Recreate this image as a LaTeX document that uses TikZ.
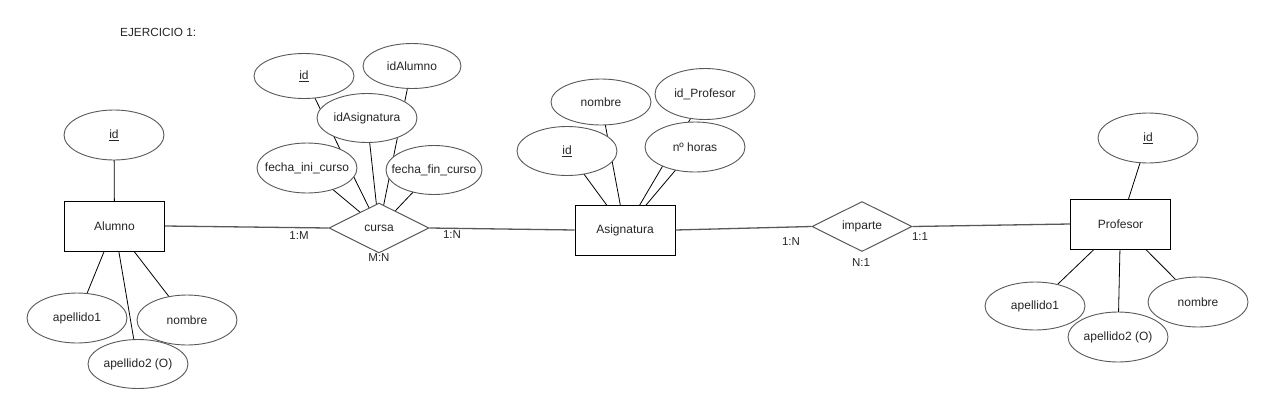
\documentclass[tikz,border=0pt]{standalone}
\usepackage{fontspec}
\setmainfont{Liberation Sans}
\usetikzlibrary{shapes.geometric,backgrounds}
\begin{document}
\begin{tikzpicture}[x=1pt,y=-1pt,
  every node/.style={font=\fontsize{12}{14}\selectfont, text=black!85},
  entity/.style={draw=black, line width=1pt, fill=white, minimum width=100pt, minimum height=50pt, inner sep=0pt},
  attr/.style={ellipse, draw=black!65, line width=0.9pt, fill=white, minimum width=100pt, minimum height=48pt, inner ysep=0pt, inner xsep=-30pt},
  rel/.style={diamond, aspect=2, draw=black!65, line width=1pt, fill=white, minimum width=100pt, minimum height=50pt, inner sep=0pt},
  link/.style={draw=black!65, line width=1.3pt},
  attrline/.style={draw=black, line width=0.8pt},
  card/.style={font=\fontsize{11.5}{13}\selectfont, inner sep=0pt}
]
\useasboundingbox (0,0) rectangle (1274,416);

\node[anchor=west, inner sep=0pt, font=\fontsize{11.8}{13}\selectfont] (title) at (120,32) {EJERCICIO 1:};

% Entities
\node[entity] (alumno) at (114.5,226) {Alumno};
\node[entity] (asig) at (625,230) {Asignatura};
\node[entity] (prof) at (1120.5,224) {Profesor};

% Relationships
\node[rel] (cursa) at (379,228) {cursa};
\node[rel] (imparte) at (862,226.5) {imparte};

% Alumno attributes
\node[attr, minimum height=50pt] (aid) at (114,135) {\underline{id}};
\node[attr, minimum height=50pt] (aap1) at (77,318) {apellido1};
\node[attr, minimum height=50pt] (anom) at (187,320) {nombre};
\node[attr, minimum height=49pt] (aap2) at (138,364) {apellido2 (O)};

% cursa attributes
\node[attr, minimum height=45pt] (cid) at (304,76) {\underline{id}};
\node[attr, minimum width=98pt, minimum height=45pt] (calu) at (412,66) {idAlumno};
\node[attr, minimum height=49pt] (casig) at (367,118) {idAsignatura};
\node[attr, minimum height=50pt] (cini) at (307,168) {fecha\_ini\_curso};
\node[attr, minimum width=96pt, minimum height=49pt] (cfin) at (434,170) {fecha\_fin\_curso};

% Asignatura attributes
\node[attr, minimum height=46pt] (snom) at (601,102) {nombre};
\node[attr, minimum height=51pt] (sprof) at (705,94) {id\_Profesor};
\node[attr, minimum height=49pt] (sid) at (567,151) {\underline{id}};
\node[attr, minimum height=50pt] (shor) at (695,147) {nº horas};

% Profesor attributes
\node[attr, minimum height=50pt] (pid) at (1148,138) {\underline{id}};
\node[attr, minimum height=48pt] (pap1) at (1035,306) {apellido1};
\node[attr, minimum height=50pt] (pap2) at (1118,337) {apellido2 (O)};
\node[attr, minimum height=50pt] (pnom) at (1198,302) {nombre};

% Cardinalities
\node[card] (c1) at (299,236) {1:M};
\node[card] (c2) at (452,235) {1:N};
\node[card] (c3) at (379,258) {M:N};
\node[card] (c4) at (791,242) {1:N};
\node[card] (c5) at (920,237) {1:1};
\node[card] (c6) at (861,263) {N:1};

\begin{pgfonlayer}{background}
  \foreach \a in {aid,aap1,anom,aap2} \draw[attrline] (\a.center) -- (alumno.center);
  \foreach \a in {cid,calu,casig,cini,cfin} \draw[attrline] (\a.center) -- (cursa.center);
  \foreach \a in {snom,sprof,sid,shor} \draw[attrline] (\a.center) -- (asig.center);
  \foreach \a in {pid,pap1,pap2,pnom} \draw[attrline] (\a.center) -- (prof.center);
\end{pgfonlayer}

% Relationship links
\draw[link] (alumno.east) -- (cursa.west);
\draw[link] (cursa.east) -- (asig.west);
\draw[link] (asig.east) -- (imparte.west);
\draw[link] (imparte.east) -- (prof.west);
\end{tikzpicture}
\end{document}
